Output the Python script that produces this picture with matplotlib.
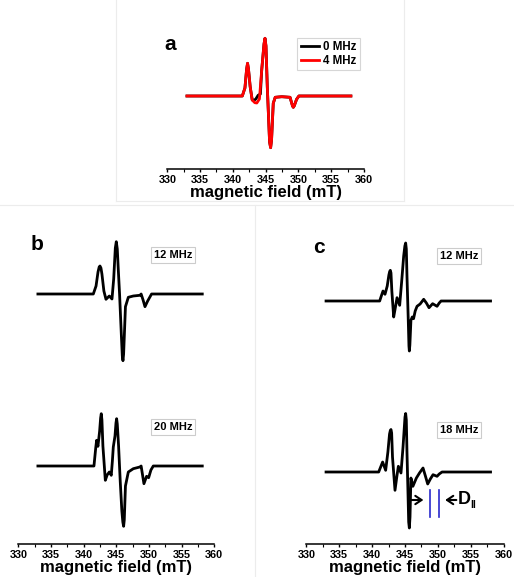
import numpy as np
import matplotlib.pyplot as plt
from matplotlib.lines import Line2D

plt.rcParams['font.family'] = ['Liberation Sans', 'DejaVu Sans']
plt.rcParams['font.weight'] = 'bold'

# ---- data (field in mT, signal in arbitrary units) ----
# panel a
field_a0 = [333.0, 341.44, 341.84, 342.1, 342.24, 342.38, 342.64, 342.95, 343.3, 343.5,
            343.85, 344.2, 344.4, 344.75, 344.9, 345.05, 345.25, 345.6, 345.76, 345.9,
            346.16, 346.46, 347.46, 348.72, 349.1, 349.22, 349.35, 349.72, 350.07, 358.0]
sig_a0 = [0, 0, 8, 27, 32.7, 27, 9.3, -4, -4, -3,
          0.7, 2, 26, 52, 57.7, 50, 9.3, -46, -51.7, -44,
          -7.3, -1.3, -0.7, -1.3, -10, -11.3, -10, -3.3, 0, 0]
field_a4 = [333.0, 341.44, 341.84, 342.1, 342.24, 342.38, 342.64, 342.95, 343.35, 343.65,
            344.05, 344.4, 344.75, 344.9, 345.05, 345.25, 345.6, 345.76, 345.9,
            346.16, 346.46, 347.46, 348.72, 349.1, 349.22, 349.35, 349.72, 350.07, 358.0]
sig_a4 = [0, 0, 8, 27, 32.7, 27, 9.3, -4, -6.7, -7,
          -3, 26, 52, 57.7, 50, 9.3, -46, -51.7, -44,
          -7.3, -1.3, -0.7, -1.3, -10, -11.3, -10, -3.3, 0, 0]

# panel b
field_b12 = [333.0, 341.48, 341.9, 342.2, 342.38, 342.5, 342.65, 342.8, 343.1, 343.42,
             343.93, 344.34, 344.6, 344.85, 345.0, 345.15, 345.3, 345.5, 345.8, 345.92,
             346.02, 346.12, 346.4, 346.84, 347.6, 348.62, 348.8, 349.1, 349.39, 349.8,
             350.4, 358.16]
sig_b12 = [0, 0, 8, 22, 27, 28, 26, 20, 3, -5.3,
           -2, -5, 15, 46, 52.3, 45, 25, 0, -45, -62,
           -66.7, -60, -12.7, -3.3, -2, -1.3, 0, -6, -12.7, -7,
           0, 0]
field_b20 = [333.0, 341.58, 341.85, 341.99, 342.19, 342.45, 342.6, 342.7, 342.8, 342.95,
             343.32, 343.6, 343.93, 344.23, 344.4, 344.54, 344.8, 344.95, 345.05, 345.15,
             345.35, 345.6, 345.85, 346.0, 346.12, 346.22, 346.4, 346.84, 347.6, 348.6,
             348.8, 349.23, 349.64, 349.95, 350.3, 350.66, 358.16]
sig_b20 = [0, 0, 18, 25.7, 19.7, 35, 48, 52.3, 46, 20,
           -14.3, -9, -6, -9.3, 5, 19, 30, 43, 47.3, 42,
           20, -15, -45, -56, -60.3, -54, -20, -6, -2.7, -1,
           0, -17.7, -10.3, -11.7, -4, 0, 0]

# panel c
field_c12 = [333.0, 341.15, 341.45, 341.66, 341.96, 342.3, 342.55, 342.67, 342.77, 342.87,
             343.0, 343.28, 343.55, 343.79, 344.19, 344.5, 344.8, 344.98, 345.1, 345.2,
             345.3, 345.5, 345.6, 345.66, 345.74, 345.9, 346.1, 346.3, 346.55, 346.83,
             347.3, 347.84, 348.25, 348.65, 349.2, 349.87, 350.2, 350.48, 358.0]
sig_c12 = [0, 0, 6, 10, 6.7, 15, 26, 29.5, 30.7, 28,
           10, -16, -6, 3.3, -4.3, 20, 45, 55, 58, 52,
           25, -20, -45, -50, -44, -19.3, -16, -17.7, -10, -5.3,
           -3, 1.7, -2, -6.7, -2.7, -5.3, -2, 0, 0]
field_c18 = [333.0, 341.0, 341.3, 341.6, 342.06, 342.4, 342.65, 342.77, 342.87, 342.97,
             343.1, 343.48, 343.75, 343.99, 344.39, 344.7, 344.9, 345.0, 345.1, 345.2,
             345.3, 345.45, 345.56, 345.66, 345.76, 345.9, 346.2, 346.73, 347.2, 347.74,
             348.1, 348.45, 348.85, 349.26, 349.87, 350.2, 350.63, 358.0]
sig_c18 = [0, 0, 5, 10, 1.7, 20, 38, 41.5, 42.5, 39,
           15, -18.3, -5, 5.7, -1, 25, 45, 55, 58.5, 52,
           20, -20, -50, -56, -45, -6, -14.3, -6, -1, 4,
           -4, -12, -7, -2.7, -4.3, -2, 0, 0]

ticks = [330, 335, 340, 345, 350, 355, 360]
D_lines = [348.8, 350.12]

W, H = 514, 577
fig = plt.figure(figsize=(W / 100, H / 100), dpi=100)


def make_axes(x0, x1, ybot, ytop):
    # rectangle given in pixel coordinates
    return fig.add_axes([x0 / W, 1 - ybot / H, (x1 - x0) / W, (ybot - ytop) / H])


def style(ax):
    ax.set_xlim(330, 360)
    for s in ['left', 'right', 'top']:
        ax.spines[s].set_visible(False)
    ax.spines['bottom'].set_linewidth(1.1)
    ax.set_yticks([])
    ax.set_xticks(ticks)
    ax.set_xticks(np.arange(332.5, 360, 5), minor=True)
    ax.tick_params(axis='x', which='major', length=2.5, width=1.0, pad=1.5, labelsize=7.8)
    ax.tick_params(axis='x', which='minor', length=1.8, width=0.8)
    for lab in ax.get_xticklabels():
        lab.set_fontweight('bold')
    ax.set_xlabel('magnetic field (mT)', fontsize=12, fontweight='bold', labelpad=0)
    ax.patch.set_alpha(0)


def tag(ax, x, y, s):
    ax.text(x, y, s, fontsize=8, fontweight='bold', ha='center', va='center',
            bbox=dict(boxstyle='square,pad=0.25', fc='white', ec='#cccccc', lw=0.8))


# faint panel frames
frame = '#ececec'
fig.add_artist(Line2D([116 / W, 116 / W], [1, 1 - 201 / H], color=frame, lw=0.8))
fig.add_artist(Line2D([404 / W, 404 / W], [1, 1 - 201 / H], color=frame, lw=0.8))
fig.add_artist(Line2D([116 / W, 404 / W], [1 - 201 / H, 1 - 201 / H], color=frame, lw=0.8))
fig.add_artist(Line2D([0, 1], [1 - 205 / H, 1 - 205 / H], color=frame, lw=0.8))
fig.add_artist(Line2D([255 / W, 255 / W], [1 - 205 / H, 0], color=frame, lw=0.8))

LW = 2.0

# panel a
ax_a = make_axes(167.3, 364, 169, 20)
style(ax_a)
ax_a.set_ylim(-73, 76)
ax_a.plot(field_a0, sig_a0, color='black', lw=LW, label='0 MHz')
ax_a.plot(field_a4, sig_a4, color='red', lw=LW, label='4 MHz')
leg = ax_a.legend(loc='upper right', bbox_to_anchor=(359.5 / W, 1 - 38 / H),
                  bbox_transform=fig.transFigure, fontsize=8.3, frameon=True,
                  fancybox=False, edgecolor='#cccccc', handlelength=1.6,
                  handletextpad=0.3, borderpad=0.3, labelspacing=0.1, borderaxespad=0)
leg.get_frame().set_linewidth(0.8)
for t in leg.get_texts():
    t.set_fontweight('bold')
fig.text(170 / W, 1 - 45 / H, 'a', fontsize=15, fontweight='bold', ha='center', va='center')

# panel b
ax_b = make_axes(18.3, 214.3, 544, 220)
style(ax_b)
ax_b.set_ylim(0, 324)
ax_b.plot(field_b12, np.array(sig_b12) + 250, color='black', lw=LW)
ax_b.plot(field_b20, np.array(sig_b20) + 78, color='black', lw=LW)
tag(ax_b, 353.7, 544 - 255, '12 MHz')
tag(ax_b, 353.7, 544 - 427, '20 MHz')
fig.text(37 / W, 1 - 245 / H, 'b', fontsize=15, fontweight='bold', ha='center', va='center')

# panel c
ax_c = make_axes(306.3, 503.7, 544, 220)
style(ax_c)
ax_c.set_ylim(0, 324)
ax_c.plot(field_c12, np.array(sig_c12) + 243, color='black', lw=LW)
ax_c.plot(field_c18, np.array(sig_c18) + 72, color='black', lw=LW)
tag(ax_c, 353.2, 544 - 256, '12 MHz')
tag(ax_c, 353.2, 544 - 430, '18 MHz')
for xv in D_lines:
    ax_c.plot([xv, xv], [27, 54], color='#2a2acc', lw=1.2)
arrow = dict(arrowstyle='->,head_length=0.45,head_width=0.3', lw=1.5, color='black',
             mutation_scale=10, shrinkA=0, shrinkB=0)
ax_c.annotate('', xy=(347.8, 44), xytext=(345.7, 44), arrowprops=arrow)
ax_c.annotate('', xy=(351.1, 44), xytext=(352.8, 44), arrowprops=arrow)
ax_c.text(353.0, 44.5, 'D', fontsize=13, fontweight='bold', ha='left', va='center')
ax_c.text(354.9, 39, 'II', fontsize=7.5, fontweight='bold', ha='left', va='center')
fig.text(319 / W, 1 - 248 / H, 'c', fontsize=15, fontweight='bold', ha='center', va='center')

fig.savefig('out.png', dpi=100)
